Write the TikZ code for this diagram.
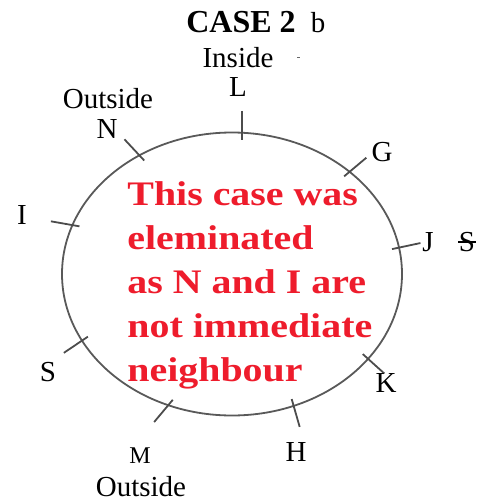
\documentclass[tikz,border=0pt]{standalone}
\usepackage{fontspec}
\setmainfont{Liberation Serif}
\newfontfamily\notefont[FakeStretch=1.16]{Liberation Serif}
\newcommand\crossout[1]{\ooalign{#1\cr\hidewidth\rule[0.3em]{0.62em}{0.06em}\hidewidth\cr}}
\definecolor{notered}{RGB}{238,28,44}
\usetikzlibrary{shapes.geometric}
\begin{document}
\begin{tikzpicture}[x=0.5pt,y=-0.5pt,
  ring/.style={ellipse,draw=black!65,line width=0.9pt,
               minimum width=170pt,minimum height=141.5pt,inner sep=0pt},
  tickmark/.style={draw=black!70,line width=0.9pt},
  seat/.style={inner sep=0pt,font=\fontsize{14.5}{15}\selectfont},
  small/.style={inner sep=0pt,font=\fontsize{12}{12}\selectfont},
  title/.style={inner sep=0pt,font=\fontsize{16}{16}\selectfont\bfseries},
  note/.style={inner sep=0pt,align=left,text=notered,
               font=\fontsize{17.2}{22}\notefont\bfseries}]
\path[use as bounding box] (0,0) rectangle (480,504);
\node[ring] (ring) at (232,274) {};
% ticks: border angle / outward direction
\foreach \a/\o in {86.8/90, 128.8/133, 41/40, 163.6/170, 9/12,
                   204.8/214, 328.7/318, 295.7/286, 244/230}
  \draw[tickmark] ([shift={(\o:10.5pt)}]ring.\a) -- ([shift={(\o+180:4pt)}]ring.\a);
\node[title,anchor=base] (case) at (241,32) {CASE 2};
\node[seat,anchor=base] (b) at (318,32) {b};
\draw[black!60,line width=0.5pt] (297,57) -- (300,57);
\node[seat] (inL) at (238,58) {Inside};
\node[seat] (L) at (238,87) {L};
\node[seat] (outN) at (108,99) {Outside};
\node[seat] (N) at (107,129) {N};
\node[seat] (G) at (382,152) {G};
\node[seat] (I) at (22,215) {I};
\node[seat] (J) at (428,242) {J};
\node[seat] (Sx) at (467,242) {\crossout{S}};
\node[seat] (S) at (48,372) {S};
\node[seat] (K) at (386,383) {K};
\node[seat] (H) at (296,452) {H};
\node[small] (M) at (140,456) {M};
\node[seat] (outM) at (141,487) {Outside};
\node[note,anchor=north west] (msg) at (127,181)
  {This case was\\eleminated\\as N and I are\\not immediate\\neighbour};
\end{tikzpicture}
\end{document}
